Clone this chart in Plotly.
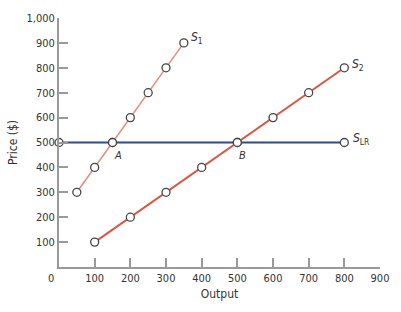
import plotly.graph_objects as go

s1_x = [50, 100, 150, 200, 250, 300, 350]
s1_y = [300, 400, 500, 600, 700, 800, 900]
s2_x = [100, 200, 300, 400, 500, 600, 700, 800]
s2_y = [100, 200, 300, 400, 500, 600, 700, 800]
slr_x = [0, 150, 500, 800]
slr_y = [500, 500, 500, 500]
x_ticks = [100, 200, 300, 400, 500, 600, 700, 800, 900]
y_ticks = [100, 200, 300, 400, 500, 600, 700, 800, 900, 1000]
y_labels = ["100", "200", "300", "400", "500", "600", "700", "800", "900", "1,000"]

FONT = "DejaVu Sans Condensed, Liberation Sans Narrow, Liberation Sans, Arial"
marker = dict(size=8, color="white", line=dict(color="#444", width=1.3))

fig = go.Figure()
fig.add_trace(go.Scatter(x=slr_x, y=slr_y, mode="lines+markers",
                         line=dict(color="#2f4b8a", width=2), marker=marker, cliponaxis=False))
fig.add_trace(go.Scatter(x=s1_x, y=s1_y, mode="lines+markers",
                         line=dict(color="#e8897a", width=1.5), marker=marker, cliponaxis=False))
fig.add_trace(go.Scatter(x=s2_x, y=s2_y, mode="lines+markers",
                         line=dict(color="#d9573f", width=2), marker=marker, cliponaxis=False))

ann = []
def lab(x, y, text, xshift=0, yshift=0, size=12):
    ann.append(dict(x=x, y=y, text=text, showarrow=False, xshift=xshift, yshift=yshift,
                    font=dict(family=FONT, size=size, color="#333")))
lab(350, 900, "<i>S</i><sub>1</sub>", xshift=13, yshift=5)
lab(800, 800, "<i>S</i><sub>2</sub>", xshift=14, yshift=3)
lab(800, 500, "<i>S</i><sub>LR</sub>", xshift=17, yshift=4)
lab(150, 500, "<i>A</i>", xshift=5, yshift=-13, size=11)
lab(500, 500, "<i>B</i>", xshift=5, yshift=-13, size=11)
ann.append(dict(x=0, y=0, xref="x", yref="y", text="0", showarrow=False, xshift=-8, yshift=-11,
                font=dict(family=FONT, size=11, color="#333")))

fig.update_layout(
    width=401, height=312, margin=dict(l=58, r=16, t=14, b=45),
    plot_bgcolor="white", paper_bgcolor="white", showlegend=False,
    annotations=ann,
    font=dict(family=FONT, size=11, color="#333"),
    xaxis=dict(range=[0, 900], tickvals=x_ticks, showgrid=False, zeroline=False,
               showline=True, linecolor="#999", linewidth=2, ticks="inside", ticklen=9,
               tickcolor="#999", tickwidth=1.5,
               title=dict(text="Output", font=dict(family=FONT, size=12), standoff=5)),
    yaxis=dict(range=[0, 1000], tickvals=y_ticks, ticktext=y_labels, showgrid=False, zeroline=False,
               showline=True, linecolor="#999", linewidth=2, ticks="inside", ticklen=9,
               tickcolor="#999", tickwidth=1.5,
               title=dict(text="Price ($)", font=dict(family=FONT, size=12), standoff=6)),
)
fig.write_html("out.html")
